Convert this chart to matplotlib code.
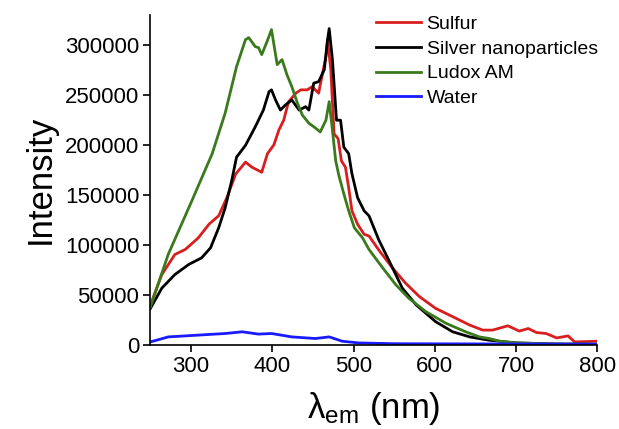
import matplotlib
matplotlib.use('Agg')
import matplotlib.pyplot as plt

plt.rcParams['font.family'] = ['Liberation Sans', 'DejaVu Sans']
plt.rcParams['mathtext.fontset'] = 'custom'
plt.rcParams['mathtext.rm'] = 'Liberation Sans'
plt.rcParams['mathtext.it'] = 'Liberation Sans:italic'

# Sulfur
wl_sulfur = [250, 264, 280, 293, 309, 322, 334, 344, 355, 367, 375, 387, 394, 400, 402,
             408, 414, 420, 429, 435, 443, 449, 457, 461, 466, 468, 472, 476, 481, 485,
             490, 494, 498, 505, 513, 519, 532, 548, 564, 581, 601, 622, 643, 659, 671,
             690, 704, 715, 725, 737, 750, 764, 772, 800]
i_sulfur = [40000, 70200, 90300, 95400, 107000, 120500, 129000, 147000, 170800, 182600,
            177500, 172500, 191000, 197700, 200000, 214500, 224500, 243000, 251500, 254800,
            254800, 258000, 251500, 268000, 288000, 305000, 275000, 211000, 206000, 184000,
            177500, 157000, 134000, 120500, 110500, 108800, 93700, 76800, 61700, 48300,
            36500, 28200, 19800, 14800, 14800, 19100, 13800, 16400, 12400, 11400, 7000,
            9000, 3000, 3700]

# Silver nanoparticles
wl_silver = [250, 264, 280, 297, 313, 324, 334, 342, 350, 356, 367, 379, 389, 396, 399,
             404, 410, 416, 424, 433, 441, 445, 451, 457, 464, 468, 470, 474, 479, 484,
             488, 494, 498, 505, 513, 519, 531, 544, 560, 577, 601, 622, 643, 667, 700,
             750, 800]
i_silver = [36500, 56700, 70200, 80300, 87000, 97000, 117000, 137000, 164000, 187600,
            199400, 217800, 234600, 253000, 254800, 244700, 234600, 239600, 244700, 234600,
            238000, 234600, 261500, 263000, 275000, 305000, 316000, 285000, 224500, 224500,
            197600, 191000, 171000, 147000, 134000, 129000, 105000, 83600, 56700, 40000,
            23200, 13100, 8000, 4700, 2000, 800, 500]

# Ludox AM
wl_ludox = [250, 272, 301, 326, 342, 356, 367, 371, 379, 383, 387, 393, 399, 406, 412,
            418, 424, 431, 437, 445, 451, 459, 466, 470, 474, 478, 482, 488, 494, 501,
            511, 519, 536, 552, 568, 589, 614, 638, 655, 667, 680, 700, 750, 800]
i_ludox = [38000, 90600, 144000, 191000, 231600, 278000, 305000, 307000, 298000, 297000,
           290000, 302000, 315000, 280000, 285000, 270000, 258000, 241500, 229600, 221500,
           218000, 212800, 224500, 243000, 214500, 184000, 169000, 151000, 134000, 117000,
           107000, 95300, 76800, 60100, 46600, 33200, 21500, 13100, 8000, 6400, 3700,
           2000, 1000, 800]

# Water
wl_water = [250, 272, 309, 342, 363, 383, 399, 424, 453, 470, 486, 506, 550, 650, 800]
i_water = [3000, 8000, 9800, 11400, 13100, 10800, 11400, 8000, 6400, 8000, 3700, 2000,
           1200, 1000, 800]

fig = plt.figure(figsize=(6.19, 4.29), dpi=100)
ax = fig.add_axes([0.243, 0.196, 0.722, 0.77])

lw = 2.0
ax.plot(wl_sulfur, i_sulfur, color='#d81e1e', lw=lw, label='Sulfur')
ax.plot(wl_silver, i_silver, color='black', lw=lw, label='Silver nanoparticles')
ax.plot(wl_ludox, i_ludox, color='#3b7a1c', lw=lw, label='Ludox AM')
ax.plot(wl_water, i_water, color='#1a1aff', lw=lw, label='Water')

ax.set_xlim(250, 800)
ax.set_ylim(0, 330000)
ax.set_xticks([300, 400, 500, 600, 700, 800])
ax.set_yticks([0, 50000, 100000, 150000, 200000, 250000, 300000])
ax.spines['top'].set_visible(False)
ax.spines['right'].set_visible(False)
ax.spines['left'].set_linewidth(1.2)
ax.spines['bottom'].set_linewidth(1.2)
ax.tick_params(direction='out', length=5, width=1.2, labelsize=16, pad=3)

ax.set_xlabel(r'$\mathrm{\lambda}_{\mathrm{em}}$ (nm)', fontsize=25, labelpad=9)
ax.set_ylabel('Intensity', fontsize=25, labelpad=6)

ax.legend(loc='upper right', bbox_to_anchor=(1.04, 1.05), frameon=False, fontsize=14,
          handlelength=2.3, handletextpad=0.3, labelspacing=0.36)

plt.savefig('out.png')
